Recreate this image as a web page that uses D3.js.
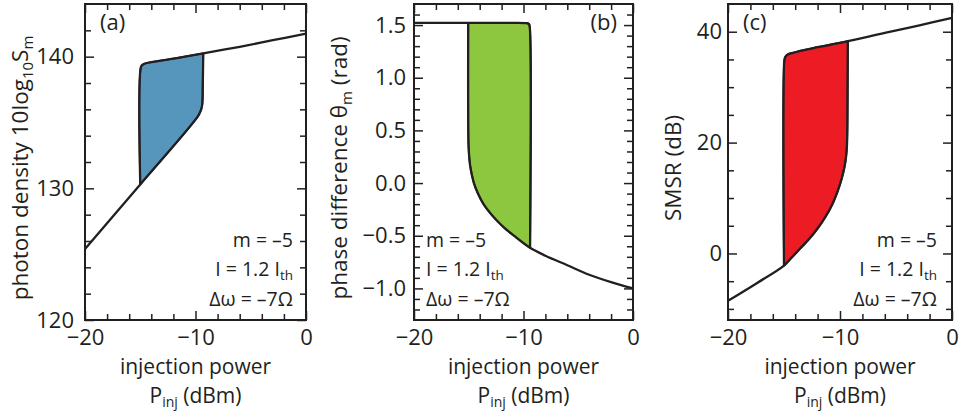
<!DOCTYPE html>
<html><head><meta charset="utf-8">
<script src="https://cdn.jsdelivr.net/npm/d3@7"></script>
<style>
body{margin:0;background:#fff}
svg{display:block;font-family:"Open Sans",sans-serif}
</style>
</head><body>
<svg id="chart" width="961" height="414"></svg>
<script>
// ---------- data ----------
const pinjMajor = [-20, -10, 0];
const pinjMajorLabels = ["\u221220", "\u221210", "0"];
const pinjMinor = [-18, -16, -14, -12, -8, -6, -4, -2];

// (a) photon density 10log10 Sm
const aUnlockedP = [-20, -15, -9.8, -9.55, -9.4, -9.34, -9.3];
const aUnlockedS = [125.4, 130.3, 135.45, 135.85, 136.3, 138.0, 140.25];
const aLockedP = [-15.0, -14.94, -14.8, -14.5, -12, -9.3, -6, -3, 0];
const aLockedS = [130.3, 139.2, 139.38, 139.5, 139.85, 140.25, 140.75, 141.25, 141.75];
const aMajor = [120, 130, 140];
const aMajorLabels = ["120", "130", "140"];
const aMinor = [122, 124, 126, 128, 132, 134, 136, 138, 142];

// (b) phase difference theta_m
const bUnlockedP = [-20, -15.05, -12, -9.7, -9.5, -9.42, -9.4];
const bUnlockedT = [1.52, 1.52, 1.52, 1.518, 1.51, 1.47, -0.615];
const bLockedP = [-15.05, -15.03, -14.98, -14.88, -14.72, -14.53, -14.2, -13.68, -13.0, -12.46, -11.7, -10.94, -9.4, -8, -6, -4, -2, 0];
const bLockedT = [1.52, 0.40, 0.28, 0.17, 0.08, 0.0, -0.09, -0.195, -0.29, -0.353, -0.43, -0.494, -0.615, -0.69, -0.78, -0.87, -0.94, -1.0];
const bMajor = [-1.0, -0.5, 0.0, 0.5, 1.0, 1.5];
const bMajorLabels = ["\u22121.0", "\u22120.5", "0.0", "0.5", "1.0", "1.5"];
const bMinor = [-1.2, -1.1, -0.9, -0.8, -0.7, -0.6, -0.4, -0.3, -0.2, -0.1, 0.1, 0.2, 0.3, 0.4, 0.6, 0.7, 0.8, 0.9, 1.1, 1.2, 1.3, 1.4, 1.6];

// (c) SMSR (dB)
const cUnlockedP = [-20, -17.5, -15.0, -14.3, -13.6, -12.8, -12.0, -11.3, -10.7, -10.2, -9.85, -9.6, -9.45, -9.38, -9.34, -9.32, -9.3];
const cUnlockedS = [-8.54, -5.45, -2.2, -0.7, 0.8, 2.5, 4.5, 6.6, 8.8, 11.3, 13.5, 15.6, 17.6, 19.5, 23, 30, 38.3];
const cLockedP = [-15.0, -14.97, -14.9, -14.7, -14.2, -12, -9.3, -6, -3, 0];
const cLockedS = [-2.2, 34.8, 35.4, 35.85, 36.2, 37.2, 38.3, 39.8, 41.1, 42.5];
const cMajor = [0, 20, 40];
const cMajorLabels = ["0", "20", "40"];
const cMinor = [-10, -5, 5, 10, 15, 25, 30, 35];

// ---------- drawing ----------
const svg = d3.select("#chart");
const INK = "#231f20";
const FONT = '"Open Sans", sans-serif';

function zip(a, b) { return a.map((v, i) => [v, b[i]]); }

function panel(cfg) {
  const g = svg.append("g");
  const x = d3.scaleLinear().domain([-20, 0]).range([cfg.x0, cfg.x1]);
  const y = d3.scaleLinear().domain(cfg.yDomain).range([cfg.y1, cfg.y0]);
  const line = d3.line().x(d => x(d[0])).y(d => y(d[1])).curve(d3.curveCatmullRom.alpha(0.5));

  const unlocked = zip(cfg.uP, cfg.uV);
  const locked = zip(cfg.lP, cfg.lV);
  const poly = locked.filter(d => d[0] <= cfg.jumpR + 1e-9)
    .concat(unlocked.filter(d => d[0] >= cfg.jumpL - 1e-9).reverse());

  g.append("path").attr("d", line(poly) + "Z")
    .attr("fill", cfg.color).attr("stroke", INK).attr("stroke-width", 1.8)
    .attr("stroke-linejoin", "round");
  g.append("path").attr("d", line(unlocked)).attr("fill", "none")
    .attr("stroke", INK).attr("stroke-width", 2.3).attr("stroke-linejoin", "round");
  g.append("path").attr("d", line(locked)).attr("fill", "none")
    .attr("stroke", INK).attr("stroke-width", 2.3).attr("stroke-linejoin", "round");

  const style = sel => {
    sel.select(".domain").remove();
    sel.selectAll(".tick line").attr("stroke", INK).attr("stroke-width", 1.5);
    sel.selectAll(".tick text").attr("fill", INK).style("font-size", "22px")
      .style("font-family", FONT);
  };
  // left
  g.append("g").attr("transform", `translate(${cfg.x0},0)`)
    .call(d3.axisLeft(y).tickValues(cfg.major).tickSize(-9).tickPadding(cfg.ypad)
      .tickFormat((d, i) => cfg.majorLabels[i])).call(style);
  g.append("g").attr("transform", `translate(${cfg.x0},0)`)
    .call(d3.axisLeft(y).tickValues(cfg.minor).tickSize(-6).tickFormat("")).call(style);
  // right
  g.append("g").attr("transform", `translate(${cfg.x1},0)`)
    .call(d3.axisRight(y).tickValues(cfg.major).tickSize(-9).tickFormat("")).call(style);
  g.append("g").attr("transform", `translate(${cfg.x1},0)`)
    .call(d3.axisRight(y).tickValues(cfg.minor).tickSize(-6).tickFormat("")).call(style);
  // bottom
  g.append("g").attr("transform", `translate(0,${cfg.y1})`)
    .call(d3.axisBottom(x).tickValues(pinjMajor).tickSize(-9).tickPadding(9)
      .tickFormat((d, i) => pinjMajorLabels[i])).call(style);
  g.append("g").attr("transform", `translate(0,${cfg.y1})`)
    .call(d3.axisBottom(x).tickValues(pinjMinor).tickSize(-6).tickFormat("")).call(style);
  // top
  g.append("g").attr("transform", `translate(0,${cfg.y0})`)
    .call(d3.axisTop(x).tickValues(pinjMajor).tickSize(-9).tickFormat("")).call(style);
  g.append("g").attr("transform", `translate(0,${cfg.y0})`)
    .call(d3.axisTop(x).tickValues(pinjMinor).tickSize(-6).tickFormat("")).call(style);

  // frame
  g.append("rect").attr("x", cfg.x0).attr("y", cfg.y0)
    .attr("width", cfg.x1 - cfg.x0).attr("height", cfg.y1 - cfg.y0)
    .attr("fill", "none").attr("stroke", INK).attr("stroke-width", 2);

  // x title
  const cx = (cfg.x0 + cfg.x1) / 2;
  g.append("text").attr("x", cx).attr("y", 374).attr("text-anchor", "middle")
    .attr("fill", INK).style("font-size", "21px").text("injection power");
  const t2 = g.append("text").attr("x", cx).attr("y", 403).attr("text-anchor", "middle")
    .attr("fill", INK).style("font-size", "21px");
  t2.append("tspan").text("P");
  t2.append("tspan").attr("dy", 4).style("font-size", "14px").text("inj");
  t2.append("tspan").attr("dy", -4).text(" (dBm)");

  // y title
  const yt = g.append("text").attr("transform", `translate(${cfg.ytx},168) rotate(-90)`)
    .attr("text-anchor", "middle").attr("fill", INK).style("font-size", "22.5px");
  cfg.ytitle.forEach(p => {
    const ts = yt.append("tspan").text(p.t);
    if (p.sub) ts.attr("dy", 5).style("font-size", "15px");
    if (p.up) ts.attr("dy", -5);
  });

  // panel label
  g.append("text").attr("x", cfg.labX).attr("y", 30).attr("text-anchor", cfg.labAnchor)
    .attr("fill", INK).style("font-size", "22px").text(cfg.label);

  // annotations
  const ax = cfg.annAnchor === "end" ? cfg.x1 - cfg.annPad : cfg.x0 + cfg.annPad;
  const ann = (yy, parts) => {
    const t = g.append("text").attr("x", ax).attr("y", yy).attr("text-anchor", cfg.annAnchor)
      .attr("fill", INK).style("font-size", "19.5px");
    parts.forEach(p => {
      const ts = t.append("tspan").text(p.t);
      if (p.sub) ts.attr("dy", 4).style("font-size", "13.5px");
    });
  };
  ann(247, [{t: "m = \u20135"}]);
  ann(276, [{t: "I = 1.2 I"}, {t: "th", sub: true}]);
  ann(306, [{t: "\u0394\u03c9 = \u20137\u03a9"}]);
}

panel({
  x0: 85, x1: 306, y0: 4, y1: 320, yDomain: [120, 144],
  uP: aUnlockedP, uV: aUnlockedS, lP: aLockedP, lV: aLockedS, jumpL: -15.0, jumpR: -9.3,
  color: "#5696bc", major: aMajor, majorLabels: aMajorLabels, minor: aMinor, ypad: 11,
  ytx: 28, ytitle: [{t: "photon density 10log"}, {t: "10", sub: true}, {t: "S", up: true}, {t: "m", sub: true}],
  label: "(a)", labX: 100, labAnchor: "start", annAnchor: "end", annPad: 13
});
panel({
  x0: 414, x1: 633, y0: 4, y1: 320, yDomain: [-1.3, 1.7],
  uP: bUnlockedP, uV: bUnlockedT, lP: bLockedP, lV: bLockedT, jumpL: -15.05, jumpR: -9.4,
  color: "#8dc63f", major: bMajor, majorLabels: bMajorLabels, minor: bMinor, ypad: 8,
  ytx: 347, ytitle: [{t: "phase difference \u03b8"}, {t: "m", sub: true}, {t: " (rad)", up: true}],
  label: "(b)", labX: 617, labAnchor: "end", annAnchor: "start", annPad: 12
});
panel({
  x0: 728, x1: 952, y0: 4, y1: 320, yDomain: [-12, 45],
  uP: cUnlockedP, uV: cUnlockedS, lP: cLockedP, lV: cLockedS, jumpL: -15.0, jumpR: -9.3,
  color: "#ed1c24", major: cMajor, majorLabels: cMajorLabels, minor: cMinor, ypad: 6,
  ytx: 681, ytitle: [{t: "SMSR (dB)"}],
  label: "(c)", labX: 743, labAnchor: "start", annAnchor: "end", annPad: 15
});
</script>
</body></html>
